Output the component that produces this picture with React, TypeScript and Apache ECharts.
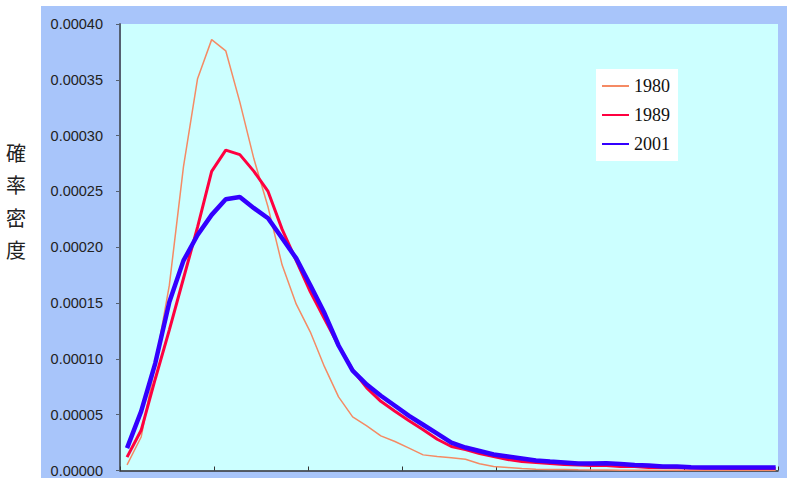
import React, { useEffect, useRef } from "react";
import * as echarts from "echarts";

const xValues = [
  7.5, 22.5, 37.5, 52.5, 67.5, 82.5, 97.5, 112.5, 127.5, 142.5,
  157.5, 172.5, 187.5, 202.5, 217.5, 232.5, 247.5, 262.5, 277.5, 292.5,
  307.5, 322.5, 337.5, 352.5, 367.5, 382.5, 397.5, 412.5, 427.5, 442.5,
  457.5, 472.5, 487.5, 502.5, 517.5, 532.5, 547.5, 562.5, 577.5, 592.5,
  607.5, 622.5, 637.5, 652.5, 667.5, 682.5, 697.5,
];

const series1980 = [
  0.000005, 0.00003, 0.000095, 0.000166, 0.000272, 0.000351, 0.000386, 0.000376, 0.00033, 0.000279,
  0.000236, 0.000184, 0.000149, 0.000124, 0.000093, 0.000066, 0.000048, 0.00004, 0.000031, 0.000026,
  0.00002, 0.000014, 0.0000125, 0.0000115, 0.00001, 0.000006, 0.0000036, 0.0000027, 0.0000018, 0.0000012,
  0.000001, 0.0000008, 0.0000006, 0.0000005, 0.0000004, 0.0000003, 0.0000003, 0.0000002, 0.0000002, 0.0000001,
  0.0000001, 0.0000001, 0.0000001, 0, 0, 0, 0,
];

const series1989 = [
  0.000012, 0.000036, 0.000082, 0.000126, 0.000172, 0.000218, 0.000268, 0.000287, 0.000283, 0.000268,
  0.00025, 0.000216, 0.000188, 0.00016, 0.000136, 0.000112, 0.00009, 0.000074, 0.000062, 0.000053,
  0.0000445, 0.0000365, 0.000028, 0.0000215, 0.0000188, 0.0000152, 0.0000125, 0.0000098, 0.000008, 0.0000072,
  0.0000063, 0.0000054, 0.000005, 0.0000045, 0.0000045, 0.0000036, 0.0000036, 0.0000027, 0.0000027, 0.0000024,
  0.0000022, 0.000002, 0.000002, 0.0000018, 0.0000018, 0.0000018, 0.0000018,
];

const series2001 = [
  0.00002, 0.000053, 0.000096, 0.000151, 0.000188, 0.000211, 0.000229, 0.000243, 0.000245, 0.000235,
  0.000226, 0.000208, 0.00019, 0.000166, 0.000141, 0.000112, 0.0000895, 0.000077, 0.000067, 0.000058,
  0.000049, 0.000041, 0.000033, 0.000025, 0.0000206, 0.0000175, 0.0000143, 0.0000125, 0.0000107, 0.0000089,
  0.000008, 0.0000072, 0.0000063, 0.0000063, 0.0000064, 0.0000058, 0.000005, 0.0000045, 0.0000036, 0.0000036,
  0.000003, 0.0000027, 0.0000027, 0.0000027, 0.0000027, 0.0000027, 0.0000027,
];

const seriesNames = ["1980", "1989", "2001"];
const yTickLabels = ["0.00000", "0.00005", "0.00010", "0.00015", "0.00020", "0.00025", "0.00030", "0.00035", "0.00040"];
const yAxisTitle = "確率密度";

const pairs = (ys: number[]) => xValues.map((x, i) => [x, ys[i]]);

export default function App() {
  const ref = useRef<HTMLDivElement>(null);
  useEffect(() => {
    if (!ref.current) return;
    const chart = echarts.init(ref.current, undefined, { renderer: "svg" });
    chart.setOption({
      animation: false,
      backgroundColor: "#ffffff",
      title: {
        text: yAxisTitle.split("").join("\n"),
        left: 6,
        top: 136,
        padding: 0,
        textStyle: {
          fontFamily: "Noto Sans CJK JP",
          fontSize: 20,
          fontWeight: "normal",
          lineHeight: 32.5,
          color: "#222",
        },
      },
      graphic: [
        {
          type: "rect",
          z: -10,
          silent: true,
          shape: { x: 41, y: 6, width: 746, height: 472 },
          style: { fill: "#A8C5FA" },
        },
      ],
      grid: {
        left: 120,
        right: 9,
        top: 24,
        bottom: 7,
        show: true,
        backgroundColor: "#CCFFFF",
        borderWidth: 0,
      },
      legend: {
        orient: "vertical",
        left: 596,
        top: 69,
        padding: [8, 8, 8, 5],
        backgroundColor: "#ffffff",
        itemWidth: 27,
        itemHeight: 14,
        itemGap: 11,
        itemStyle: { color: "transparent", borderColor: "transparent", borderWidth: 0, opacity: 0 },
        data: seriesNames,
        textStyle: {
          fontFamily: "Liberation Serif",
          fontSize: 18,
          color: "#111",
        },
      },
      xAxis: {
        type: "value",
        min: 0,
        max: 700,
        interval: 100,
        axisLine: { show: true, onZero: false, lineStyle: { color: "#333", width: 1.5 } },
        axisTick: { show: true, inside: true, length: 4, lineStyle: { color: "#333" } },
        axisLabel: { show: false },
        splitLine: { show: false },
      },
      yAxis: {
        type: "value",
        min: 0,
        max: 0.0004,
        interval: 0.00005,
        axisLine: { show: true, lineStyle: { color: "#556070", width: 2 } },
        axisTick: { show: true, inside: false, length: 4, lineStyle: { color: "#556070" } },
        axisLabel: {
          margin: 17,
          color: "#222",
          fontFamily: "Liberation Sans",
          fontSize: 14.5,
          formatter: (v: number) => yTickLabels[Math.round(v / 0.00005)] ?? "",
        },
        splitLine: { show: false },
      },
      series: [
        {
          name: seriesNames[0],
          type: "line",
          symbol: "none",
          data: pairs(series1980),
          lineStyle: { color: "#F58A64", width: 1.5 },
          itemStyle: { color: "#FFA080" },
          z: 2,
        },
        {
          name: seriesNames[1],
          type: "line",
          symbol: "none",
          data: pairs(series1989),
          lineStyle: { color: "#FF0040", width: 3 },
          itemStyle: { color: "#FF0040" },
          z: 3,
        },
        {
          name: seriesNames[2],
          type: "line",
          symbol: "none",
          data: pairs(series2001),
          lineStyle: { color: "#3300FF", width: 4.5 },
          itemStyle: { color: "#3300FF" },
          z: 4,
        },
      ],
    });
    return () => chart.dispose();
  }, []);
  return (
    <div
      ref={ref}
      style={{ position: "fixed", left: 0, top: 0, width: 787, height: 478 }}
    />
  );
}
